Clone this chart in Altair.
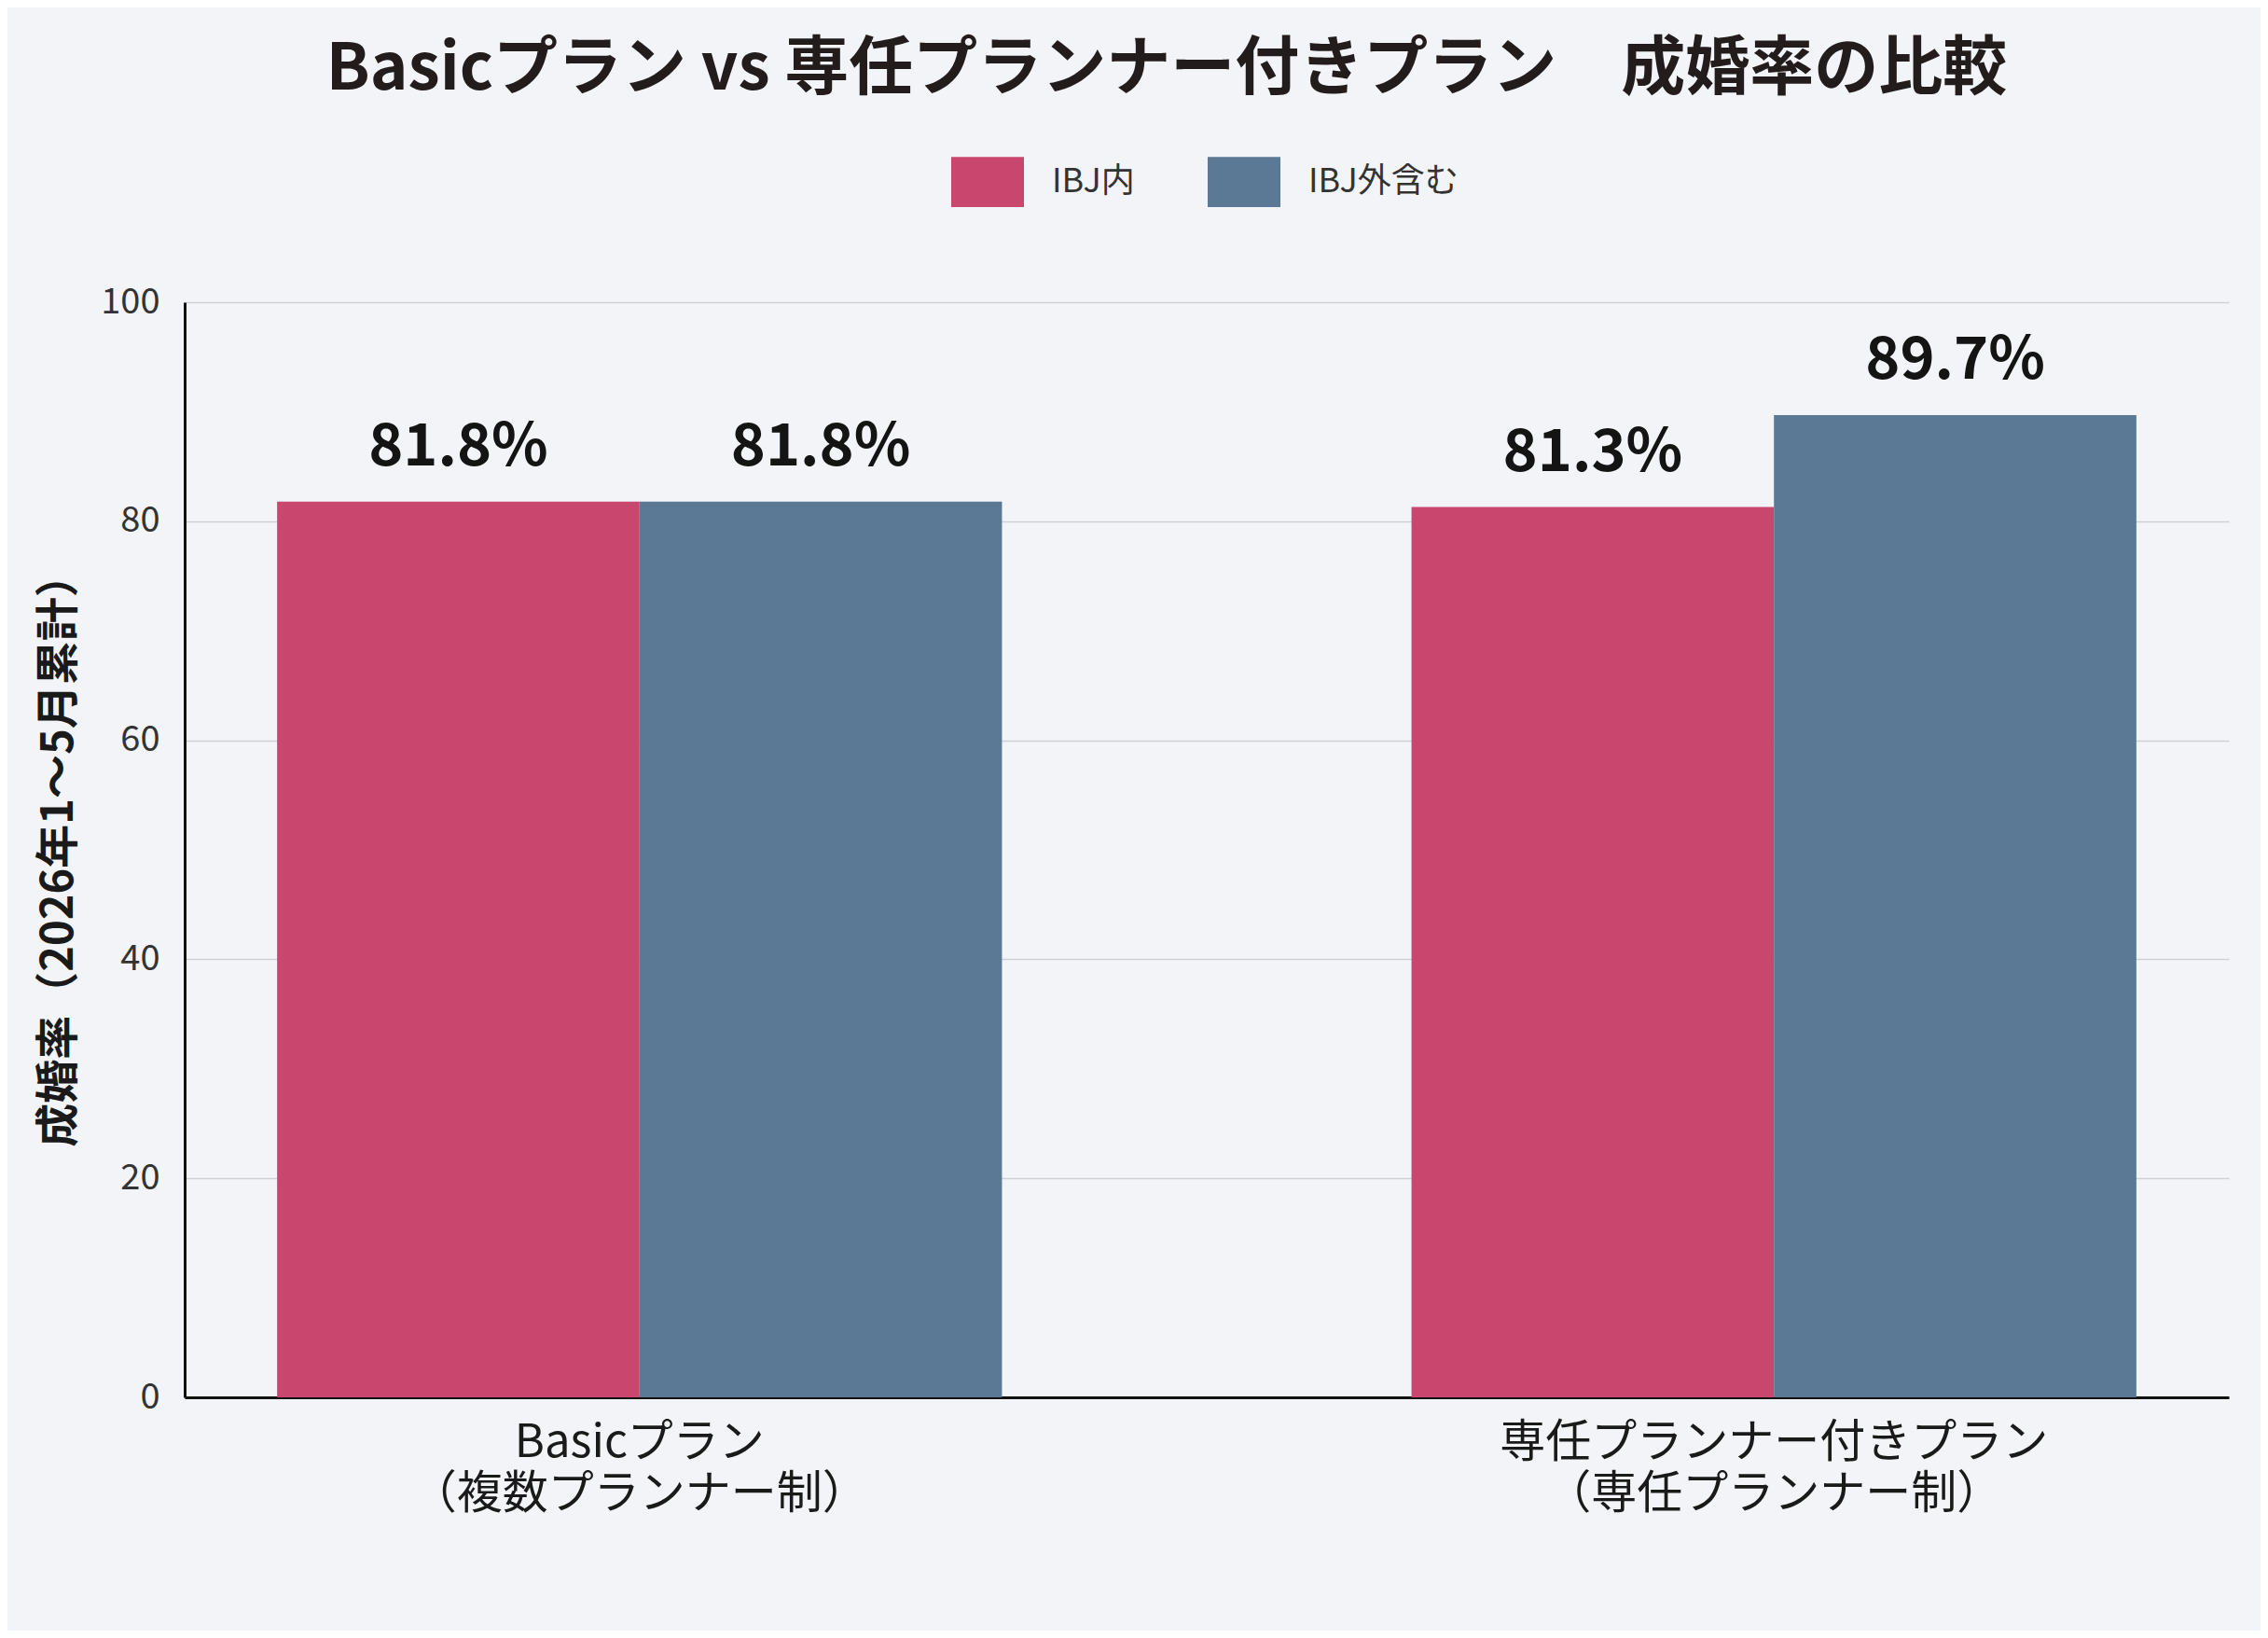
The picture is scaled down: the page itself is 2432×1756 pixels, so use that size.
import altair as alt
import pandas as pd

plans = ["Basicプラン", "専任プランナー付きプラン"]
plan_notes = ["（複数プランナー制）", "（専任プランナー制）"]
series = ["IBJ内", "IBJ外含む"]
ibj_in = [81.8, 81.3]
ibj_out = [81.8, 89.7]
colors = ["#c9476f", "#5b7895"]
title_text = "Basicプラン vs 専任プランナー付きプラン　成婚率の比較"
y_title = "成婚率（2026年1〜5月累計）"

rows = []
for p, n, a, b in zip(plans, plan_notes, ibj_in, ibj_out):
    cat = p + "\n" + n
    rows.append({"plan": cat, "series": series[0], "value": a})
    rows.append({"plan": cat, "series": series[1], "value": b})
df = pd.DataFrame(rows)
cat_order = [p + "\n" + n for p, n in zip(plans, plan_notes)]

FONT = "Noto Sans CJK JP"

x_enc = alt.X(
    "plan:N",
    sort=cat_order,
    scale=alt.Scale(paddingInner=0.361, paddingOuter=0.0815),
    axis=alt.Axis(
        title=None,
        labelAngle=0,
        labelExpr="split(datum.label, '\\n')",
        labelLimit=0,
        labelFontSize=49,
        labelLineHeight=55,
        labelColor="#1a1a1a",
        labelPadding=24,
        ticks=False,
        domainColor="#111111",
        domainWidth=3,
        labelFont=FONT,
    ),
)
xoff = alt.XOffset("series:N", sort=series, scale=alt.Scale(paddingInner=0, paddingOuter=0))

base = alt.Chart(df)

bars = base.mark_bar(cornerRadius=0).encode(
    x=x_enc,
    xOffset=xoff,
    y=alt.Y(
        "value:Q",
        scale=alt.Scale(domain=[0, 100]),
        axis=alt.Axis(
            title=y_title,
            values=[0, 20, 40, 60, 80, 100],
            ticks=False,
            labelFontSize=38,
            labelColor="#333333",
            labelPadding=27,
            labelFont=FONT,
            titleFont=FONT,
            titleFontSize=47,
            titleFontWeight="bold",
            titleColor="#1a1a1a",
            titlePadding=20,
            gridColor="#cfd1d6",
            gridWidth=1.5,
            domainColor="#111111",
            domainWidth=3,
        ),
    ),
    color=alt.Color(
        "series:N",
        sort=series,
        scale=alt.Scale(domain=series, range=colors),
        legend=alt.Legend(
            title=None,
            orient="none",
            direction="horizontal",
            legendX=822,
            legendY=-168,
            symbolType="M-1,-0.69L1,-0.69L1,0.69L-1,0.69Z",
            symbolSize=6084,
            symbolStrokeWidth=0,
            symbolOpacity=1,
            labelFontSize=36,
            labelLimit=0,
            labelFont=FONT,
            labelColor="#333333",
            labelOffset=30,
            columnPadding=78,
        ),
    ),
)

labels = base.transform_calculate(
    label="format(datum.value, '.1f') + '%'"
).mark_text(
    baseline="bottom", dy=-26, fontSize=63, fontWeight="bold", color="#141414", font=FONT
).encode(
    x=alt.X("plan:N", sort=cat_order),
    xOffset=xoff,
    y="value:Q",
    text="label:N",
)

chart = (
    alt.layer(bars, labels)
    .properties(
        width=2192,
        height=1174,
        title=alt.TitleParams(
            text=title_text,
            fontSize=69,
            fontWeight="bold",
            font=FONT,
            color="#231c1c",
            anchor="middle",
            dx=-43,
            offset=46,
        ),
        autosize=alt.AutoSizeParams(type="none"),
        padding={"left": 190, "top": 316, "right": 34, "bottom": 250},
        background="#f2f4f8",
    )
    .configure_view(stroke=None, fill="#f2f4f8")
)

chart.save("out.html", embed_options={"renderer": "svg", "actions": False})
